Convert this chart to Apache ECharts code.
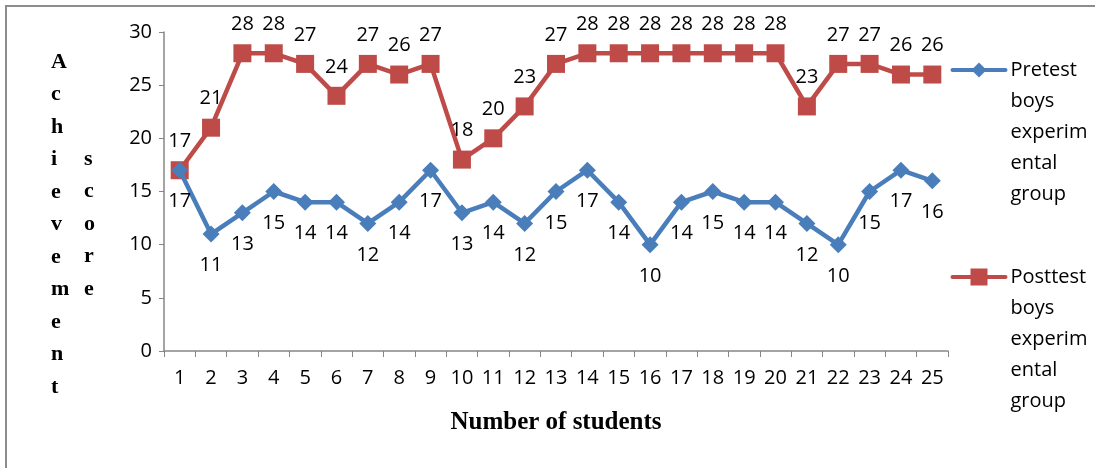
<!DOCTYPE html>
<html>
<head>
<meta charset="utf-8">
<script src="https://cdn.jsdelivr.net/npm/echarts@6.0.0/dist/echarts.min.js"></script>
<style>
  html, body { margin: 0; padding: 0; background: #fff; }
  #chart { width: 1095px; height: 468px; }
</style>
</head>
<body>
<div id="chart"></div>
<script>
// data
const students = ['1','2','3','4','5','6','7','8','9','10','11','12','13','14','15','16','17','18','19','20','21','22','23','24','25'];
const pretest  = [17,11,13,15,14,14,12,14,17,13,14,12,15,17,14,10,14,15,14,14,12,10,15,17,16];
const posttest = [17,21,28,28,27,24,27,26,27,18,20,23,27,28,28,28,28,28,28,28,23,27,27,26,26];
const yTicks   = { min: 0, max: 30, step: 5 };

const preName  = 'Pretest\nboys\nexperim\nental\ngroup';
const postName = 'Posttest\nboys\nexperim\nental\ngroup';

const BLUE = '#4a7ebb';
const RED  = '#be4b48';
const AXIS = '#868686';
const sans  = '"Open Sans", Lato, sans-serif';
const serif = '"Liberation Serif", "DejaVu Serif", serif';

const chart = echarts.init(document.getElementById('chart'));

// legend drawn by hand: Excel puts the icon beside the first line of wrapped text
function legendEntry(y, name, color, marker) {
    return {
        type: 'group',
        left: 950, top: y - 15.5,
        children: [
            { type: 'line', shape: { x1: 0, y1: 15.5, x2: 53, y2: 15.5 },
              style: { stroke: color, lineWidth: 4, lineCap: 'round' } },
            marker,
            { type: 'text', x: 58, y: 0,
              style: { text: name, font: '20px ' + sans, lineHeight: 31, fill: '#000', verticalAlign: 'top' } },
        ],
    };
}

chart.setOption({
    animation: false,
    grid: { left: 164, right: 147, top: 32, bottom: 117 },
    graphic: [
        { type: 'rect', shape: { x: 6, y: 6, width: 1100, height: 480 },
          style: { fill: 'none', stroke: '#8c8c8c', lineWidth: 2 }, silent: true },
        { type: 'text', left: 51, top: 46,
          style: { text: 'Achievement'.split('').join('\n'), font: 'bold 22px ' + serif,
                   lineHeight: 32.5, align: 'center', fill: '#000' } },
        { type: 'text', left: 84, top: 143,
          style: { text: 'score'.split('').join('\n'), font: 'bold 22px ' + serif,
                   lineHeight: 32.5, align: 'center', fill: '#000' } },
        legendEntry(70, preName, BLUE,
            { type: 'polygon', shape: { points: [[26.5, 8], [34, 15.5], [26.5, 23], [19, 15.5]] },
              style: { fill: BLUE } }),
        legendEntry(277, postName, RED,
            { type: 'rect', shape: { x: 18, y: 7, width: 17, height: 17 }, style: { fill: RED } }),
    ],
    xAxis: {
        type: 'category',
        data: students,
        boundaryGap: true,
        name: 'Number of students',
        nameLocation: 'middle',
        nameGap: 59,
        nameTextStyle: { color: '#000', fontSize: 25, fontWeight: 'bold', fontFamily: serif },
        axisLine: { lineStyle: { color: AXIS, width: 1.5 } },
        axisTick: { show: true, interval: 0, length: 6, lineStyle: { color: AXIS } },
        axisLabel: { color: '#000', fontSize: 20, fontFamily: sans, margin: 17, interval: 0 },
        splitLine: { show: false },
    },
    yAxis: {
        type: 'value',
        min: yTicks.min,
        max: yTicks.max,
        interval: yTicks.step,
        axisLine: { show: true, lineStyle: { color: AXIS, width: 1.5 } },
        axisTick: { show: true, length: 5, lineStyle: { color: AXIS } },
        axisLabel: { color: '#000', fontSize: 20, fontFamily: sans, margin: 12 },
        splitLine: { show: false },
    },
    series: [
        {
            name: preName,
            type: 'line',
            data: pretest,
            symbol: 'diamond',
            symbolSize: 17,
            lineStyle: { color: BLUE, width: 4.5 },
            itemStyle: { color: BLUE },
            label: { show: true, position: 'bottom', distance: 13, color: '#000', fontSize: 20, fontFamily: sans },
            z: 3,
        },
        {
            name: postName,
            type: 'line',
            data: posttest,
            symbol: 'rect',
            symbolSize: 18,
            lineStyle: { color: RED, width: 4.5 },
            itemStyle: { color: RED },
            label: { show: true, position: 'top', distance: 10, color: '#000', fontSize: 20, fontFamily: sans },
            z: 2,
        },
    ],
});
</script>
</body>
</html>
